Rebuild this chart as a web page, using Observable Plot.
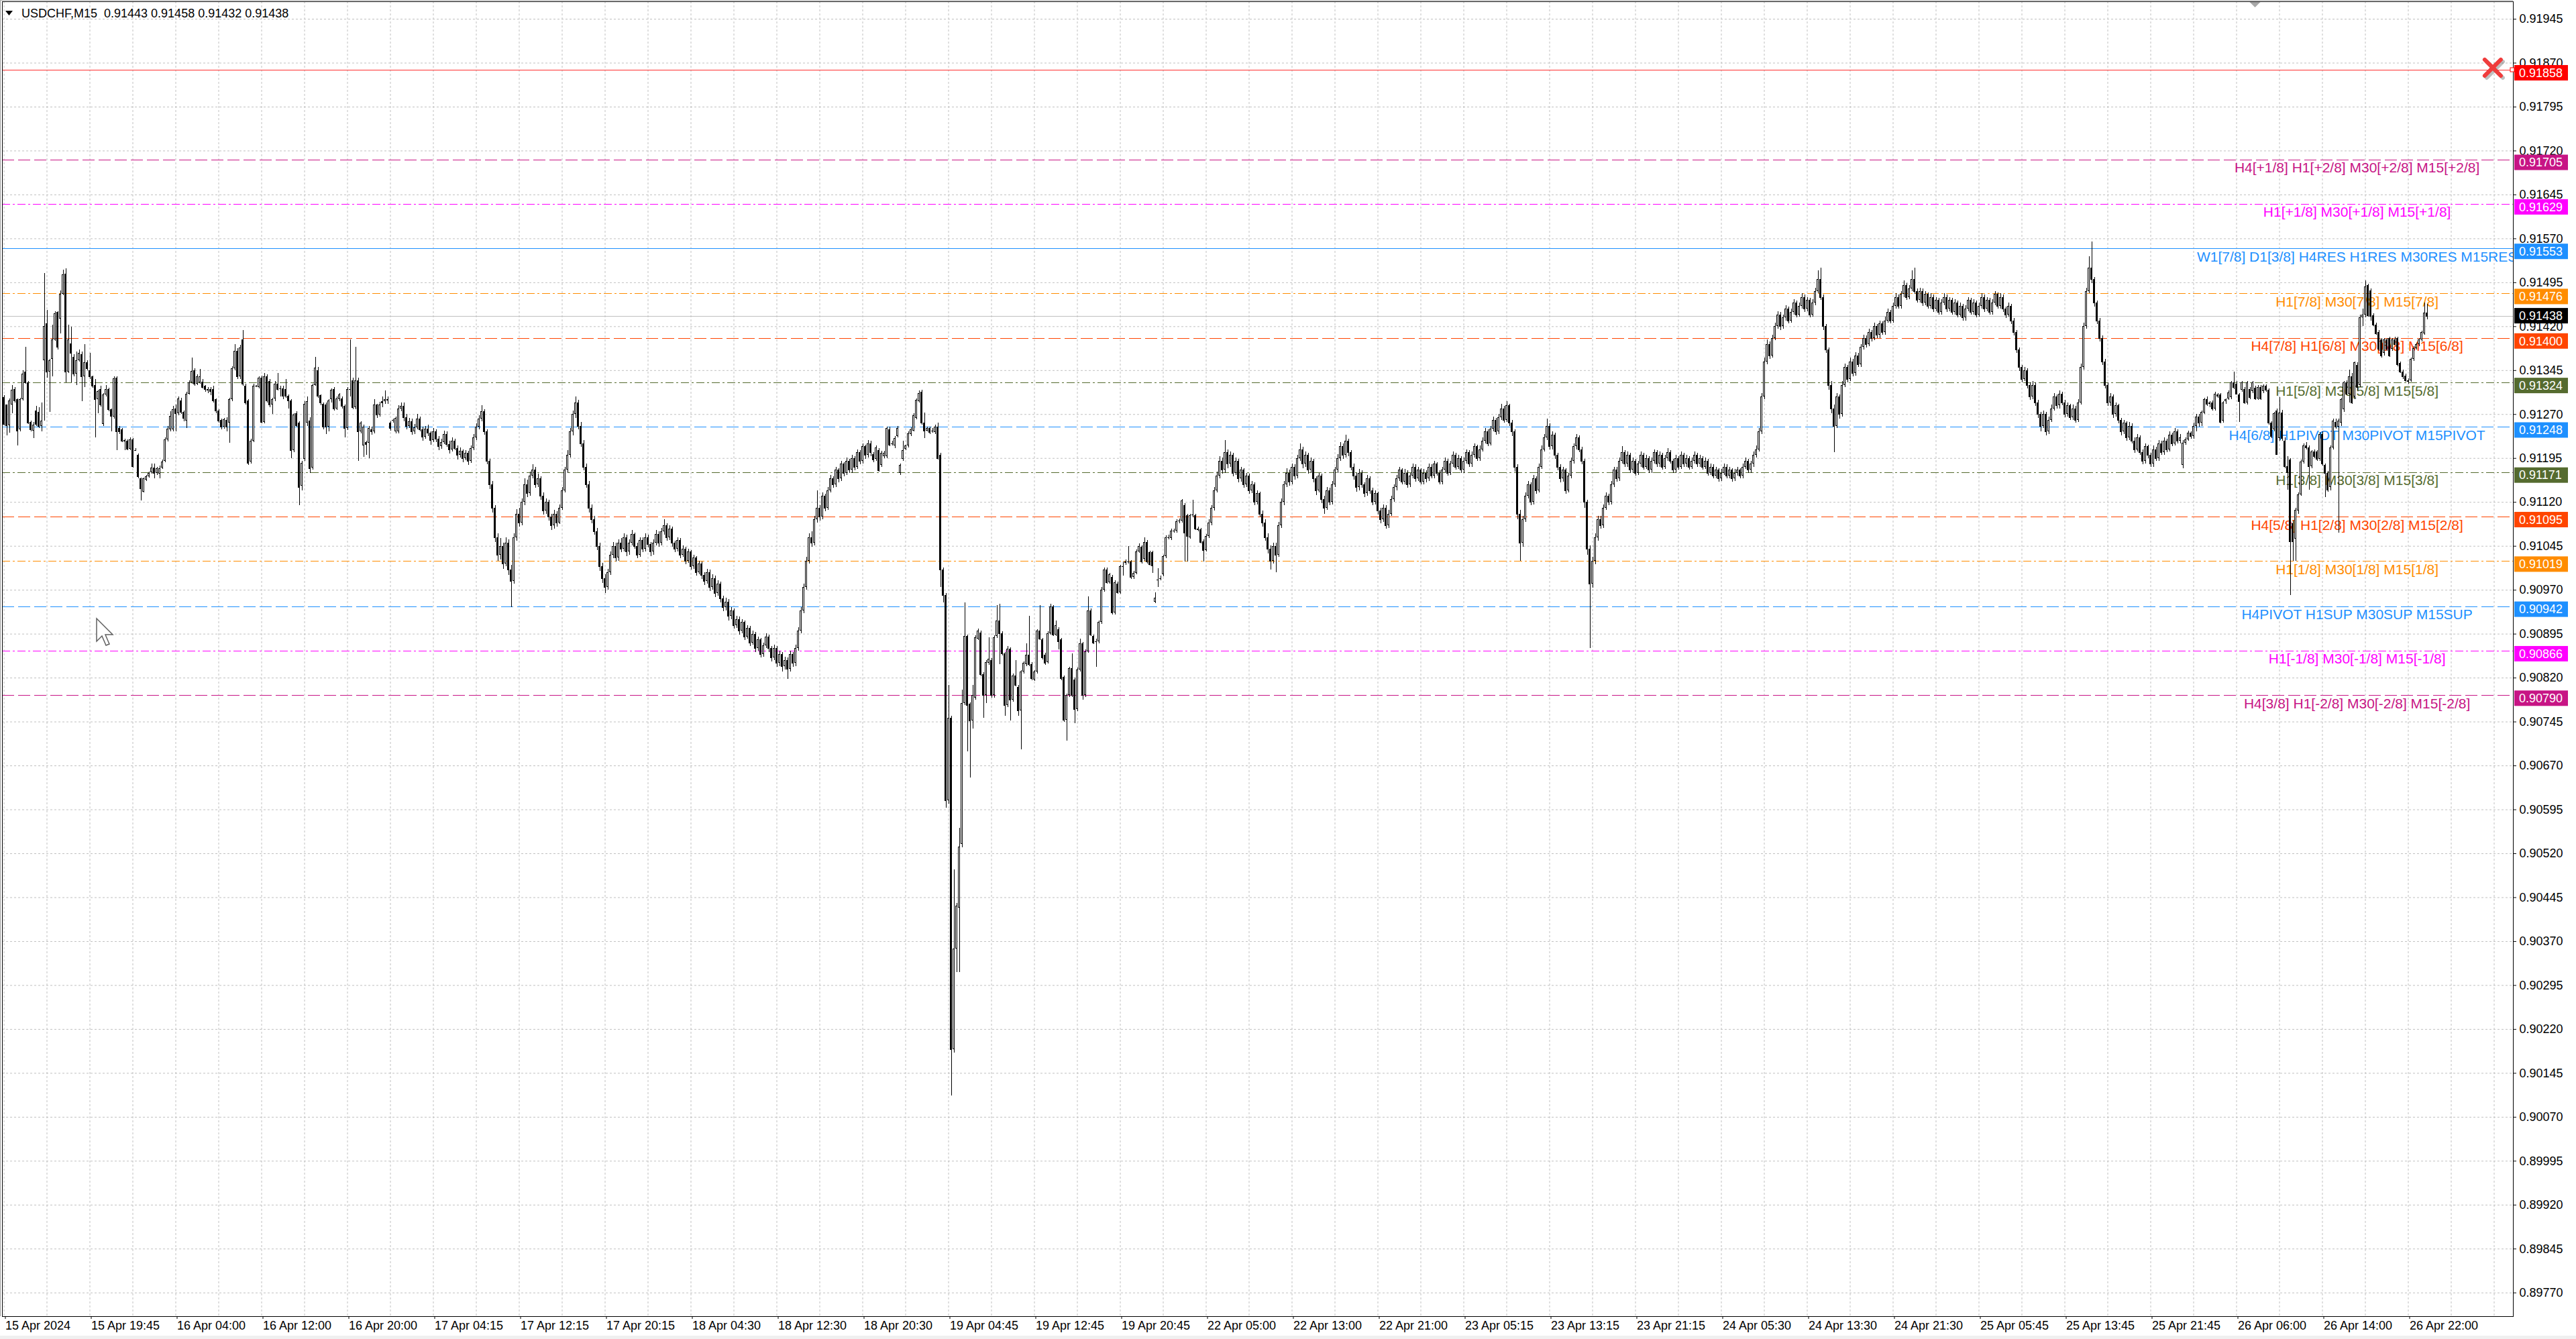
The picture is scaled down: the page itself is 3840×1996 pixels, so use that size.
<!DOCTYPE html>
<html><head><meta charset="utf-8">
<script src="https://cdn.jsdelivr.net/npm/d3@7"></script>
<script src="https://cdn.jsdelivr.net/npm/@observablehq/plot@0.6"></script>
<style>html,body{margin:0;padding:0;background:#fff;overflow:hidden}#chart svg{display:block}</style>
</head><body><div id="chart"></div>
<script>
// ---- DATA (USDCHF M15). Prices are written in points: 91438 means 0.91438 ----
const symbolTitle = "USDCHF,M15";
const candleOpen = [
91299,91286,91251,91286,91313,91295,91244,91295,91342,91324,
91257,91242,91276,91274,91250,91362,91425,91343,91364,91397,
91444,91433,91475,91510,91342,91391,91368,91339,91362,91372,
91334,91358,91345,91334,91319,91295,91313,91253,91303,91313,
91278,91266,91332,91246,91244,91226,91225,91211,91227,91209,
91200,91160,91138,91158,91164,91171,91179,91169,91168,91179,
91190,91227,91244,91244,91280,91271,91293,91274,91259,91305,
91324,91345,91322,91324,91325,91318,91313,91313,91313,91295,
91276,91260,91248,91260,91255,91295,91348,91378,91335,91397,
91318,91293,91189,91225,91318,91316,91332,91257,91335,91326,
91286,91297,91322,91313,91314,91313,91301,91293,91209,91271,
91255,91148,91194,91255,91259,91179,91320,91345,91302,91288,
91286,91248,91295,91313,91280,91295,91297,91284,91246,91311,
91328,91282,91328,91240,91217,91222,91221,91244,91240,91286,
91269,91292,91292,91293,91255,91259,91240,91240,91280,
91284,91265,91250,91258,91240,91247,91262,91244,91231,91245,
91238,91226,91240,91228,91215,91222,91236,91219,91210,91224,
91212,91200,91207,91195,91204,91190,91212,91230,91248,91262,
91275,91240,91190,91150,91110,91060,91030,91045,91015,91050,
91005,90985,91060,91100,91085,91120,91150,91135,91165,91175,
91150,91160,91130,91105,91120,91095,91080,91100,91085,91110,
91140,91175,91200,91240,91270,91290,91250,91220,91180,91150,
91110,91090,91070,91045,91010,90990,90975,91000,91030,91045,
91025,91050,91040,91060,91035,91050,91065,91045,91030,91055,
91040,91060,91048,91035,91050,91065,91050,91070,91080,91060,
91075,91050,91040,91055,91030,91040,91020,91035,91010,91025,
91000,91015,90995,90985,91000,90975,90990,90965,90980,90955,
90940,90950,90925,90935,90910,90920,90900,90915,90890,90905,
90880,90895,90870,90885,90860,90875,90890,90870,90855,90870,
90845,90860,90840,90850,90835,90860,90845,90870,90900,90935,
90975,91020,91060,91050,91090,91110,91095,91130,91110,91140,
91160,91150,91175,91160,91185,91170,91190,91175,91195,91180,
91205,91190,91215,91200,91220,
91202,91194,91209,91183,91198,91198,91244,91220,91216,91233,
91169,91194,91211,91216,91236,91242,91264,91292,91308,91255,
91242,91246,91242,91239,91248,91201,91005,90961,90611,90751,
90186,90357,90427,90536,90777,90891,90775,90747,90786,90887,
90897,90826,90790,90845,90850,90790,90891,90918,90896,90861,
90773,90869,90782,90824,90804,90764,90830,90843,90859,90843,
90817,90830,90900,90885,90859,90847,90896,90941,90894,90903,
90885,90821,90748,90790,90836,90817,90766,90834,90878,90790,
90865,90935,90891,90882,90882,90915,90970,91005,90983,90992,
90931,90981,90966,91010,91016,91018,91018,90992,90999,91036,
91043,91023,91052,91034,91034,90950,90987,90990,90996,91027,
91060,91058,91071,91071,91088,91088,91115,91097,91060,91097,
91097,91075,91073,91053,91038,
91062,91085,91110,91140,91165,91190,91175,91205,91185,91200,
91170,91190,91160,91175,91150,91165,91140,91150,91120,91135,
91100,91085,91060,91040,91020,91045,91030,91080,91120,91150,
91170,91155,91180,91165,91195,91210,91185,91200,91175,91190,
91160,91140,91165,91125,91110,91140,91120,91150,91175,91195,
91215,91200,91225,91205,91180,91165,91145,91170,91150,91135,
91160,91140,91120,91135,91105,91090,91110,91080,91100,91125,
91145,91160,91175,91155,91170,91150,91165,91180,91160,91175,
91155,91170,91160,91180,91165,91185,91170,91155,91175,91190,
91170,91185,91200,91180,91195,91175,91190,91205,91185,91200,
91215,91195,91210,91225,91240,91220,91245,91260,91240,91265,
91280,91260,91285,91255,91240,91180,91100,91050,91090,91130,
91150,91120,91160,91140,91180,91210,91230,91250,91215,91235,
91200,91180,91160,91175,91140,91165,91190,91215,91230,91210,
91190,91120,91040,90980,91020,91060,91090,91080,91110,91130,
91120,91150,91175,91160,91190,91205,91185,91200,91175,91190,
91170,91185,91200,91180,91195,91175,91190,91205,91185,91200,
91180,91195,91205,91190,91175,91195,91180,91200,91185,91195,
91180,91190,91200,91185,91195,91180,91190,91170,91180,91165,
91175,91160,91170,91180,91165,91175,91160,91170,91175,91165,
91180,91190,91175,91185,91200,91210,91240,91300,91360,91390,
91370,91400,91420,91440,91420,91435,91450,91430,91445,91460,
91440,91455,91470,91450,91465,91440,91460,91480,91500,91470,
91420,91380,91320,91280,91250,91300,91270,91320,91350,91330,
91360,91340,91370,91355,91385,91400,91390,91410,91400,91420,
91405,91425,91410,91430,91445,91430,91455,91470,91455,91475,
91490,91470,91485,91500,91480,91465,91480,91460,91475,91455,
91470,91450,91465,91445,91460,91470,91450,91465,91445,91460,
91440,91455,91435,91450,91465,91445,91460,91440,91455,91470,
91450,91465,91445,91460,91475,91455,91470,91450,91440,91455,
91430,91410,91380,91350,91330,91345,91320,91300,91320,91290,
91270,91250,91270,91240,91260,91280,91300,91285,91305,91290,
91270,91285,91265,91280,91260,91290,91350,91420,91480,91520,
91500,91460,91430,91400,91360,91320,91290,91300,91270,91285,
91260,91240,91255,91230,91250,91225,91210,91230,91205,91190,
91215,91200,91185,91210,91195,91220,91205,91225,91210,91235,
91220,91240,91225,
91183,91221,91227,91238,91232,91250,91266,91255,91273,91295,
91287,91290,91279,91303,91303,91259,91292,91297,91299,91324,
91322,91303,91311,91313,91290,91313,91309,91315,91297,91316,
91309,91318,91311,91255,91244,91276,91229,91273,91225,91181,
91192,91084,91057,91105,91133,91189,91217,91213,91181,91206,
91206,91194,91236,91183,91170,91145,91213,91257,91248,91255,
91278,91324,91305,91335,91300,91354,91320,91435,91440,91490,
91481,91439,91423,91410,91397,91374,91397,91400,91381,91398,
91400,91357,91343,91336,91328,91328,91364,91383,91389,91397,
91408,91443];
const candleHigh = [
91302,91286,91297,91320,91316,91297,91298,91345,91385,91326,
91259,91256,91284,91282,91290,91511,91448,91364,91423,91446,
91446,91481,91517,91519,91423,91419,91372,91377,91380,91377,
91389,91362,91374,91336,91330,91312,91318,91306,91320,91315,
91280,91335,91334,91250,91246,91228,91227,91230,91229,91212,
91203,91162,91162,91166,91172,91185,91185,91180,91182,91192,
91230,91250,91275,91284,91286,91300,91298,91276,91308,91328,
91366,91348,91338,91347,91330,91320,91316,91316,91318,91297,
91278,91262,91264,91265,91298,91352,91389,91382,91388,91414,
91322,91296,91228,91322,91320,91335,91336,91340,91338,91330,
91298,91326,91340,91318,91318,91330,91304,91296,91272,91275,
91258,91190,91292,91300,91265,91322,91368,91350,91304,91290,
91290,91296,91314,91316,91300,91306,91300,91286,91316,91397,
91332,91385,91332,91258,91252,91225,91250,91248,91295,91288,
91291,91300,91310,91300,91258,91262,91266,91285,91290,
91290,91270,91264,91262,91253,91270,91266,91248,91250,91252,
91241,91246,91244,91232,91228,91242,91240,91224,91230,91228,
91216,91213,91210,91209,91207,91216,91236,91254,91268,91285,
91278,91244,91194,91156,91114,91066,91058,91050,91060,91056,
91012,91066,91108,91110,91126,91160,91158,91172,91184,91180,
91168,91164,91136,91126,91124,91100,91106,91104,91116,91146,
91180,91208,91246,91276,91300,91294,91256,91226,91186,91156,
91116,91096,91076,91050,91016,90996,91006,91036,91052,91050,
91056,91058,91066,91064,91056,91072,91068,91050,91060,91060,
91066,91064,91052,91056,91072,91070,91076,91090,91084,91080,
91078,91054,91060,91058,91046,91044,91040,91038,91030,91028,
91020,91018,91000,91006,91004,90996,90994,90986,90984,90960,
90956,90954,90940,90938,90926,90924,90920,90918,90910,90908,
90900,90898,90890,90888,90880,90896,90894,90874,90876,90874,
90866,90864,90856,90854,90866,90864,90876,90906,90940,90980,
91026,91066,91070,91096,91140,91114,91136,91134,91146,91166,
91164,91180,91178,91190,91188,91196,91194,91200,91198,91210,
91208,91220,91218,91226,91224,
91205,91216,91212,91207,91207,91249,91248,91224,91232,91250,
91186,91224,91218,91240,91247,91271,91297,91310,91312,91273,
91249,91249,91246,91252,91255,91204,91008,90964,90808,90755,
90492,90435,90563,90799,90948,90894,90778,90808,90892,90904,
90900,90829,90850,90889,90853,90892,90944,90946,90899,90864,
90874,90872,90827,90850,90807,90833,90848,90878,90926,90846,
90833,90903,90944,90888,90862,90899,90946,90944,90918,90906,
90888,90824,90793,90839,90861,90820,90837,90887,90881,90868,
90959,90938,90894,90886,90918,90975,91008,91008,90999,90995,
90986,90984,91013,91018,91022,91045,91021,91002,91039,91049,
91046,91060,91055,91037,91037,90966,91007,90994,91030,91063,
91064,91074,91075,91090,91092,91125,91118,91100,91100,91124,
91100,91078,91076,91056,91065,
91090,91115,91146,91172,91198,91196,91226,91210,91206,91204,
91196,91194,91180,91178,91170,91168,91156,91154,91140,91138,
91105,91090,91066,91046,91050,91050,91086,91126,91156,91178,
91175,91186,91184,91200,91220,91214,91206,91204,91196,91194,
91164,91170,91168,91130,91146,91144,91156,91180,91202,91222,
91220,91235,91228,91208,91185,91170,91176,91174,91154,91166,
91164,91144,91140,91138,91110,91116,91114,91106,91130,91150,
91166,91180,91178,91176,91174,91170,91186,91184,91180,91178,
91176,91174,91186,91184,91190,91188,91174,91180,91196,91194,
91190,91206,91204,91200,91198,91196,91210,91208,91206,91220,
91218,91216,91230,91246,91244,91250,91266,91264,91270,91288,
91284,91292,91288,91260,91244,91184,91106,91096,91136,91156,
91154,91166,91164,91186,91216,91236,91262,91254,91240,91238,
91204,91184,91180,91178,91170,91196,91220,91236,91234,91214,
91194,91124,91046,91026,91066,91096,91096,91116,91136,91134,
91156,91180,91180,91196,91215,91208,91206,91204,91196,91194,
91190,91206,91204,91200,91198,91196,91210,91208,91206,91204,
91200,91212,91208,91194,91200,91198,91206,91204,91200,91198,
91196,91206,91204,91200,91198,91196,91194,91186,91184,91180,
91178,91176,91186,91184,91180,91178,91176,91180,91178,91186,
91196,91194,91190,91206,91216,91246,91306,91366,91398,91394,
91406,91426,91446,91444,91440,91456,91454,91450,91466,91464,
91460,91476,91474,91470,91468,91466,91486,91515,91520,91474,
91424,91384,91326,91286,91306,91304,91326,91356,91354,91366,
91364,91376,91374,91390,91406,91404,91416,91414,91426,91424,
91430,91428,91436,91450,91448,91460,91476,91474,91480,91498,
91494,91490,91515,91520,91484,91486,91484,91480,91478,91476,
91474,91470,91468,91466,91476,91474,91470,91468,91466,91464,
91460,91458,91456,91470,91468,91466,91464,91460,91476,91474,
91470,91468,91466,91480,91478,91476,91474,91454,91460,91458,
91434,91414,91384,91354,91350,91348,91324,91326,91324,91294,
91274,91276,91274,91266,91286,91306,91304,91310,91308,91294,
91290,91288,91286,91284,91296,91356,91426,91486,91540,91565,
91504,91464,91434,91404,91364,91324,91306,91304,91290,91288,
91264,91260,91258,91256,91254,91230,91236,91234,91210,91220,
91218,91204,91216,91214,91226,91224,91230,91228,91240,91238,
91246,91244,91236,
91226,91230,91242,91240,91255,91270,91270,91276,91298,91300,
91292,91293,91308,91306,91306,91292,91297,91310,91327,91343,
91327,91306,91327,91316,91327,91316,91327,91318,91319,91320,
91321,91321,91314,91258,91274,91280,91299,91277,91230,91198,
91195,91088,91110,91136,91192,91220,91222,91216,91209,91210,
91209,91239,91240,91186,91173,91216,91262,91262,91262,91298,
91327,91328,91346,91340,91360,91358,91440,91450,91498,91492,
91485,91442,91426,91414,91400,91400,91400,91402,91400,91402,
91402,91360,91346,91339,91331,91366,91386,91392,91400,91412,
91460,91458];
const candleLow = [
91251,91234,91238,91271,91290,91217,91240,91293,91322,91253,
91240,91229,91250,91246,91240,91259,91332,91274,91334,91395,
91380,91408,91473,91324,91340,91324,91335,91320,91360,91292,
91316,91345,91330,91315,91230,91271,91283,91250,91300,91275,
91240,91262,91208,91236,91222,91208,91208,91209,91179,91207,
91160,91122,91136,91156,91162,91168,91160,91166,91160,91176,
91188,91223,91240,91240,91240,91268,91270,91258,91246,91303,
91322,91318,91320,91322,91314,91308,91306,91302,91290,91272,
91255,91244,91245,91240,91221,91292,91345,91330,91330,91318,
91286,91183,91186,91222,91316,91314,91254,91254,91290,91282,
91270,91292,91310,91300,91296,91298,91280,91195,91205,91248,
91114,91140,91190,91250,91170,91175,91318,91298,91285,91244,
91236,91240,91290,91276,91277,91292,91280,91230,91243,91300,
91278,91278,91190,91237,91197,91200,91195,91235,91237,91264,
91266,91282,91288,91288,91242,91255,91237,91237,91275,
91258,91244,91246,91235,91236,91244,91240,91224,91228,91233,
91218,91222,91222,91208,91211,91219,91214,91203,91206,91208,
91192,91196,91188,91191,91183,91187,91208,91226,91244,91258,
91235,91184,91142,91102,91052,91020,91022,91006,91010,90995,
90940,90980,91054,91078,91080,91114,91128,91130,91160,91144,
91146,91124,91098,91100,91088,91072,91075,91078,91082,91106,
91136,91170,91196,91234,91264,91244,91214,91174,91144,91102,
91084,91064,91038,91002,90982,90965,90970,90995,91024,91018,
91020,91034,91035,91028,91030,91046,91040,91024,91026,91034,
91036,91042,91028,91030,91046,91044,91046,91064,91054,91055,
91044,91034,91036,91024,91026,91014,91016,91004,91006,90994,
90996,90988,90978,90980,90968,90970,90958,90960,90948,90934,
90935,90918,90920,90904,90905,90894,90896,90884,90886,90874,
90876,90864,90866,90854,90856,90870,90864,90848,90850,90838,
90840,90830,90834,90818,90830,90838,90840,90866,90896,90930,
90970,91015,91044,91046,91085,91088,91090,91104,91106,91136,
91144,91146,91154,91156,91164,91166,91170,91170,91174,91176,
91184,91186,91194,91196,91198,
91188,91190,91172,91180,91195,91195,91215,91216,91212,91230,
91166,91190,91208,91213,91233,91240,91261,91290,91252,91229,
91240,91236,91238,91236,91192,90975,90948,90598,90605,90107,
90180,90317,90317,90530,90773,90694,90650,90733,90782,90884,
90822,90751,90777,90842,90786,90786,90888,90843,90858,90755,
90770,90747,90779,90805,90755,90698,90827,90840,90840,90816,
90814,90827,90884,90851,90842,90844,90893,90891,90891,90868,
90816,90745,90713,90787,90787,90742,90763,90831,90782,90787,
90862,90891,90877,90839,90879,90912,90967,90980,90980,90928,
90928,90963,90963,90994,91013,91015,90989,90989,90996,91033,
91015,91020,91015,91011,90999,90947,90975,90986,90993,91024,
91056,91055,91067,91068,91084,91085,91018,91018,91057,91094,
91072,91070,91049,91018,91035,
91058,91080,91105,91136,91160,91168,91170,91178,91180,91164,
91166,91154,91155,91144,91146,91134,91135,91114,91116,91094,
91078,91054,91032,91005,91015,91000,91026,91076,91115,91146,
91148,91150,91158,91160,91190,91178,91180,91168,91170,91154,
91132,91136,91118,91100,91106,91114,91116,91146,91170,91190,
91194,91196,91198,91174,91158,91138,91140,91144,91128,91130,
91134,91114,91116,91098,91084,91086,91074,91076,91096,91120,
91140,91156,91150,91150,91144,91146,91160,91155,91156,91150,
91150,91154,91156,91160,91160,91165,91150,91150,91170,91165,
91166,91180,91175,91176,91170,91170,91186,91180,91180,91196,
91190,91190,91206,91220,91215,91216,91240,91235,91236,91260,
91255,91256,91250,91232,91172,91090,91020,91044,91086,91126,
91114,91116,91134,91136,91176,91206,91226,91210,91210,91194,
91174,91154,91155,91134,91136,91160,91186,91210,91205,91184,
91110,91030,90870,90974,91014,91054,91074,91076,91106,91114,
91116,91146,91155,91156,91186,91180,91180,91170,91170,91165,
91166,91180,91175,91176,91170,91170,91186,91180,91180,91175,
91176,91190,91185,91170,91170,91175,91176,91180,91180,91175,
91176,91186,91180,91180,91175,91176,91165,91166,91160,91160,
91155,91156,91166,91160,91160,91155,91156,91165,91160,91160,
91176,91170,91170,91180,91196,91206,91236,91296,91355,91364,
91366,91396,91416,91414,91416,91430,91425,91426,91440,91435,
91436,91450,91445,91446,91435,91436,91456,91476,91465,91414,
91374,91312,91272,91205,91246,91262,91266,91316,91324,91326,
91334,91336,91350,91350,91380,91384,91386,91394,91396,91400,
91400,91405,91406,91426,91425,91426,91450,91450,91450,91470,
91465,91466,91480,91475,91460,91460,91455,91456,91450,91450,
91445,91446,91440,91440,91456,91445,91446,91440,91440,91435,
91436,91430,91430,91446,91440,91440,91435,91436,91450,91445,
91446,91440,91440,91456,91450,91450,91445,91434,91436,91424,
91404,91374,91344,91324,91326,91314,91294,91296,91284,91264,
91240,91246,91234,91236,91256,91276,91280,91280,91285,91265,
91266,91260,91260,91255,91256,91286,91346,91416,91476,91494,
91454,91424,91394,91354,91314,91284,91284,91264,91266,91254,
91234,91236,91224,91226,91220,91204,91206,91200,91184,91186,
91195,91180,91180,91190,91190,91200,91200,91205,91206,91215,
91216,91220,91220,
91178,91218,91224,91228,91228,91240,91248,91250,91270,91284,
91282,91276,91276,91298,91254,91255,91288,91294,91296,91313,
91303,91257,91308,91288,91286,91296,91306,91294,91294,91294,
91306,91308,91252,91229,91240,91200,91225,91225,91178,91141,
90961,91019,91019,91100,91130,91185,91210,91141,91178,91195,
91190,91190,91182,91128,91138,91140,91210,91245,91068,91250,
91274,91302,91290,91287,91296,91310,91316,91420,91435,91436,
91430,91420,91405,91378,91367,91370,91378,91368,91378,91388,
91352,91340,91330,91325,91322,91325,91361,91380,91386,91394,
91405,91432];
const candleClose = [
91253,91251,91293,91311,91293,91242,91295,91339,91324,91255,
91244,91252,91253,91250,91259,91420,91343,91362,91397,91442,
91385,91475,91509,91342,91398,91374,91339,91362,91374,91334,
91358,91348,91334,91318,91295,91309,91286,91303,91313,91278,
91267,91331,91240,91240,91225,91224,91211,91227,91181,91209,
91164,91143,91160,91164,91169,91179,91169,91177,91177,91189,
91227,91245,91267,91278,91271,91297,91274,91263,91305,91324,
91344,91322,91335,91335,91316,91313,91311,91309,91293,91276,
91259,91248,91261,91248,91295,91348,91378,91335,91384,91322,
91290,91187,91225,91318,91318,91332,91257,91335,91293,91286,
91295,91322,91313,91314,91301,91301,91293,91209,91269,91251,
91145,91187,91288,91292,91177,91320,91349,91301,91290,91248,
91248,91293,91311,91280,91297,91303,91284,91246,91313,91313,
91282,91328,91240,91255,91248,91219,91246,91240,91286,91269,
91286,91290,91295,91296,91246,91260,91263,91280,91284,
91265,91250,91258,91240,91247,91262,91244,91231,91245,91238,
91226,91240,91228,91215,91222,91236,91219,91210,91224,91212,
91200,91207,91195,91204,91190,91212,91230,91248,91262,91275,
91240,91190,91150,91110,91060,91030,91045,91015,91050,91005,
90985,91060,91100,91085,91120,91150,91135,91165,91175,91150,
91160,91130,91105,91120,91095,91080,91100,91085,91110,91140,
91175,91200,91240,91270,91290,91250,91220,91180,91150,91110,
91090,91070,91045,91010,90990,90975,91000,91030,91045,91025,
91050,91040,91060,91035,91050,91065,91045,91030,91055,91040,
91060,91048,91035,91050,91065,91050,91070,91080,91060,91075,
91050,91040,91055,91030,91040,91020,91035,91010,91025,91000,
91015,90995,90985,91000,90975,90990,90965,90980,90955,90940,
90950,90925,90935,90910,90920,90900,90915,90890,90905,90880,
90895,90870,90885,90860,90875,90890,90870,90855,90870,90845,
90860,90840,90850,90835,90860,90845,90870,90900,90935,90975,
91020,91060,91050,91090,91110,91095,91130,91110,91140,91160,
91150,91175,91160,91185,91170,91190,91175,91195,91180,91205,
91190,91215,91200,91220,91205,
91192,91213,91174,91204,91204,91246,91218,91220,91229,91246,
91183,91209,91216,91237,91244,91268,91294,91306,91255,91242,
91246,91239,91242,91248,91195,91005,90961,90611,90751,90186,
90357,90431,90532,90777,90891,90773,90747,90790,90889,90900,
90826,90790,90847,90852,90790,90889,90918,90896,90861,90773,
90869,90782,90824,90808,90764,90830,90845,90859,90843,90819,
90830,90900,90887,90854,90845,90896,90941,90894,90909,90882,
90819,90748,90790,90836,90790,90766,90834,90878,90790,90865,
90935,90894,90880,90882,90915,90970,91005,90983,90996,90931,
90983,90966,91010,91010,91018,91018,90992,90999,91036,91045,
91018,91052,91018,91014,91011,90957,90987,90990,91027,91060,
91060,91071,91071,91087,91088,91122,91067,91062,91097,91099,
91075,91073,91052,91038,91062,
91085,91110,91140,91165,91190,91175,91205,91185,91200,91170,
91190,91160,91175,91150,91165,91140,91150,91120,91135,91100,
91085,91060,91040,91020,91045,91030,91080,91120,91150,91170,
91155,91180,91165,91195,91210,91185,91200,91175,91190,91160,
91140,91165,91125,91110,91140,91120,91150,91175,91195,91215,
91200,91225,91205,91180,91165,91145,91170,91150,91135,91160,
91140,91120,91135,91105,91090,91110,91080,91100,91125,91145,
91160,91175,91155,91170,91150,91165,91180,91160,91175,91155,
91170,91160,91180,91165,91185,91170,91155,91175,91190,91170,
91185,91200,91180,91195,91175,91190,91205,91185,91200,91215,
91195,91210,91225,91240,91220,91245,91260,91240,91265,91280,
91260,91285,91255,91240,91180,91100,91050,91090,91130,91150,
91120,91160,91140,91180,91210,91230,91250,91215,91235,91200,
91180,91160,91175,91140,91165,91190,91215,91230,91210,91190,
91120,91040,90980,91020,91060,91090,91080,91110,91130,91120,
91150,91175,91160,91190,91205,91185,91200,91175,91190,91170,
91185,91200,91180,91195,91175,91190,91205,91185,91200,91180,
91195,91205,91190,91175,91195,91180,91200,91185,91195,91180,
91190,91200,91185,91195,91180,91190,91170,91180,91165,91175,
91160,91170,91180,91165,91175,91160,91170,91175,91165,91180,
91190,91175,91185,91200,91210,91240,91300,91360,91390,91370,
91400,91420,91440,91420,91435,91450,91430,91445,91460,91440,
91455,91470,91450,91465,91440,91460,91480,91500,91470,91420,
91380,91320,91280,91250,91300,91270,91320,91350,91330,91360,
91340,91370,91355,91385,91400,91390,91410,91400,91420,91405,
91425,91410,91430,91445,91430,91455,91470,91455,91475,91490,
91470,91485,91500,91480,91465,91480,91460,91475,91455,91470,
91450,91465,91445,91460,91470,91450,91465,91445,91460,91440,
91455,91435,91450,91465,91445,91460,91440,91455,91470,91450,
91465,91445,91460,91475,91455,91470,91450,91440,91455,91430,
91410,91380,91350,91330,91345,91320,91300,91320,91290,91270,
91250,91270,91240,91260,91280,91300,91285,91305,91290,91270,
91285,91265,91280,91260,91290,91350,91420,91480,91520,91500,
91460,91430,91400,91360,91320,91290,91300,91270,91285,91260,
91240,91255,91230,91250,91225,91210,91230,91205,91190,91215,
91200,91185,91210,91195,91220,91205,91225,91210,91235,91220,
91240,91225,91230,
91221,91227,91238,91232,91250,91266,91255,91274,91295,91287,
91290,91279,91305,91301,91257,91290,91295,91307,91324,91316,
91305,91292,91324,91290,91324,91299,91324,91297,91316,91297,
91318,91311,91255,91232,91271,91202,91273,91229,91181,91171,
91053,91053,91107,91133,91189,91217,91213,91181,91206,91198,
91194,91236,91185,91170,91141,91213,91259,91248,91259,91295,
91324,91305,91335,91290,91358,91316,91435,91440,91488,91439,
91437,91423,91408,91381,91370,91397,91381,91370,91398,91390,
91355,91343,91334,91328,91326,91364,91383,91389,91397,91410,
91443,91438];

// price axis ticks (right side)
const yTickValues = [0.91945,0.91870,0.91795,0.91720,0.91645,0.91570,0.91495,0.91420,0.91345,0.91270,
  0.91195,0.91120,0.91045,0.90970,0.90895,0.90820,0.90745,0.90670,0.90595,0.90520,
  0.90445,0.90370,0.90295,0.90220,0.90145,0.90070,0.89995,0.89920,0.89845,0.89770];
// time axis: bar index of each label and its text
const xTickBars = [0,32,64,96,128,160,192,224,256,288,320,352,384,416,448,480,512,544,576,608,640,672,704,736,768,800,832,864,896];
const xTickLabels = ["15 Apr 2024","15 Apr 19:45","16 Apr 04:00","16 Apr 12:00","16 Apr 20:00","17 Apr 04:15","17 Apr 12:15",
  "17 Apr 20:15","18 Apr 04:30","18 Apr 12:30","18 Apr 20:30","19 Apr 04:45","19 Apr 12:45","19 Apr 20:45","22 Apr 05:00",
  "22 Apr 13:00","22 Apr 21:00","23 Apr 05:15","23 Apr 13:15","23 Apr 21:15","24 Apr 05:30","24 Apr 13:30","24 Apr 21:30",
  "25 Apr 05:45","25 Apr 13:45","25 Apr 21:45","26 Apr 06:00","26 Apr 14:00","26 Apr 22:00"];
const xGridBars = [0,16,32,48,64,80,96,112,128,144,160,176,192,208,224,240,256,272,288,304,320,336,352,368,384,400,
  416,432,448,464,480,496,512,528,544,560,576,592,608,624,640,656,672,688,704,720,736,752,768,784,800,816,832,848,
  864,880,896,912,928];

// Murrey-math style levels
const levelPrices = [0.91858,0.91705,0.91629,0.91553,0.91476,0.91438,0.91400,0.91324,0.91248,0.91171,0.91095,0.91019,0.90942,0.90866,0.90790];
const levelLineColors = ["#ff3030","#c71585","#ff00ff","#1e90ff","#ff8c00","#c0c0c0","#ff4500","#556b2f","#1e90ff","#556b2f","#ff4500","#ff8c00","#1e90ff","#ff00ff","#c71585"];
const levelBoxColors = ["#ff0000","#c71585","#ff00ff","#1e90ff","#ff8c00","#000000","#ff4500","#556b2f","#1e90ff","#556b2f","#ff4500","#ff8c00","#1e90ff","#ff00ff","#c71585"];
const levelStyles = ["solid","dash","dashdot","solid","dashdot","bid","dash","dashdot","dash","dashdot","dash","dashdot","dash","dashdot","dash"];
const levelTexts = ["","H4[+1/8] H1[+2/8] M30[+2/8] M15[+2/8]","H1[+1/8] M30[+1/8] M15[+1/8]","W1[7/8] D1[3/8] H4RES H1RES M30RES M15RES",
  "H1[7/8] M30[7/8] M15[7/8]","","H4[7/8] H1[6/8] M30[6/8] M15[6/8]","H1[5/8] M30[5/8] M15[5/8]","H4[6/8] H1PIVOT M30PIVOT M15PIVOT",
  "H1[3/8] M30[3/8] M15[3/8]","H4[5/8] H1[2/8] M30[2/8] M15[2/8]","H1[1/8] M30[1/8] M15[1/8]","H4PIVOT H1SUP M30SUP M15SUP",
  "H1[-1/8] M30[-1/8] M15[-1/8]","H4[3/8] H1[-2/8] M30[-2/8] M15[-2/8]"];

// ---- layout ----
const W = 3840, H = 1996;
const mL = 3, mR = 94, mT = 2, mB = 34;
const FONT = "'Liberation Sans', Arial, sans-serif";
const levelTextBar = 876.9;   // bar position where the level captions are centred
const half = 0.375;           // half body width in bars

const toPrice = v => v / 100000;
const bars = candleClose.map((c, i) => ({
  i, o: toPrice(candleOpen[i]), h: toPrice(candleHigh[i]), l: toPrice(candleLow[i]), c: toPrice(c)
}));
const levels = levelPrices.map((p, k) => ({p, color: levelLineColors[k], box: levelBoxColors[k], style: levelStyles[k], text: levelTexts[k]}));
const dashes = {solid: null, bid: null, dash: "18,6", dashdot: "12,4,3,4"};
const labelMap = new Map(xTickBars.map((b, k) => [b, xTickLabels[k]]));
const fmt = d3.format(".5f");

const levelRules = Object.keys(dashes).map(s => Plot.ruleY(levels.filter(d => d.style === s), {
  y: "p", stroke: "color", strokeWidth: 1, shapeRendering: "crispEdges",
  ...(dashes[s] ? {strokeDasharray: dashes[s]} : {})
}));

const plot = Plot.plot({
  width: W, height: H,
  marginLeft: mL, marginRight: mR, marginTop: mT, marginBottom: mB,
  style: {fontFamily: FONT, fontSize: "18px", background: "#fff", color: "#000"},
  x: {domain: [-0.625, 935.125], axis: null},
  y: {domain: [0.897296, 0.919748], axis: null},
  color: {type: "identity"},
  marks: [
    Plot.gridY(yTickValues, {stroke: "#c0c0c0", strokeOpacity: 1, strokeDasharray: "3,3"}),
    Plot.gridX(xGridBars, {stroke: "#c0c0c0", strokeOpacity: 1, strokeDasharray: "3,3"}),
    ...levelRules,
    Plot.text(levels.filter(d => d.text), {
      x: () => levelTextBar, y: "p", text: "text", fill: "color", fontSize: 21,
      textAnchor: "middle", lineAnchor: "bottom", dy: 19, clip: true
    }),
    Plot.ruleX(bars, {x: "i", y1: "l", y2: "h", stroke: "#000", strokeWidth: 1, shapeRendering: "crispEdges"}),
    Plot.ruleY(bars, {y: "c", x1: d => d.i - half, x2: d => d.i + half, stroke: "#000", strokeWidth: 1, shapeRendering: "crispEdges"}),
    Plot.rect(bars, {x1: d => d.i - half, x2: d => d.i + half, y1: "o", y2: "c", fill: "#000", shapeRendering: "crispEdges"}),
    Plot.rect(bars.filter(d => d.c > d.o), {x1: d => d.i - half, x2: d => d.i + half, y1: "o", y2: "c", fill: "#fff", inset: 1, shapeRendering: "crispEdges"}),
    Plot.axisY(yTickValues, {anchor: "right", tickSize: 4, tickPadding: 5, tickFormat: fmt, fontSize: 18, label: null, stroke: "#000", fill: "#000"}),
    Plot.axisX(xTickBars, {anchor: "bottom", tickSize: 4, tickPadding: 3, tickFormat: d => labelMap.get(d), textAnchor: "start", dx: 2, fontSize: 18, label: null, stroke: "#000", fill: "#000"}),
    Plot.frame({stroke: "#000", shapeRendering: "crispEdges"})
  ]
});
document.getElementById("chart").appendChild(plot);

// ---- overlays positioned with Plot's own scales ----
const svg = d3.select(plot);
const ys = plot.scale("y"), xs = plot.scale("x");
const right = W - mR;

// window edges
svg.append("rect").attr("x", 0).attr("y", H - 5).attr("width", W).attr("height", 5).attr("fill", "#f0f0f0");
svg.append("line").attr("x1", 0.5).attr("x2", 0.5).attr("y1", 0).attr("y2", H - mB).attr("stroke", "#a0a0a0");
svg.append("line").attr("x1", 0).attr("x2", right).attr("y1", 0.5).attr("y2", 0.5).attr("stroke", "#b0b0b0");

// price labels on the axis
const gb = svg.append("g").attr("font-family", FONT).attr("font-size", 18).attr("text-anchor", "start");
levels.forEach(d => {
  const py = ys.apply(d.p);
  const top = d.style === "bid" ? py - 11.5 : py - 7;
  gb.append("rect").attr("x", right + 2).attr("y", top).attr("width", 80).attr("height", 23).attr("fill", d.box);
  gb.append("text").attr("x", right + 9).attr("y", top + 11.5).attr("dy", "0.35em").attr("text-anchor", "start").attr("fill", "#fff").text(fmt(d.p));
});

// red "x" of the alert line
const xr = xs.apply(927.6), yr = ys.apply(levelPrices[0]) - 3;
const gx = svg.append("g").attr("stroke-linecap", "round");
[[3, 3, "rgba(0,0,0,0.25)"], [0, 0, "#f03c3c"]].forEach(([dx, dy, c]) => {
  gx.append("line").attr("x1", xr - 12 + dx).attr("y1", yr - 12 + dy).attr("x2", xr + 12 + dx).attr("y2", yr + 12 + dy).attr("stroke", c).attr("stroke-width", 6);
  gx.append("line").attr("x1", xr + 12 + dx).attr("y1", yr - 12 + dy).attr("x2", xr - 12 + dx).attr("y2", yr + 12 + dy).attr("stroke", c).attr("stroke-width", 6);
});
svg.append("rect").attr("x", right - 4).attr("y", ys.apply(levelPrices[0]) - 3).attr("width", 6).attr("height", 6).attr("fill", "#fff").attr("stroke", "#ff0000");

// chart-shift marker
const sx = xs.apply(839);
svg.append("path").attr("d", `M${sx - 8},3L${sx + 8},3L${sx},11Z`).attr("fill", "#a8a8a8");

// header
const last = bars[bars.length - 1];
svg.append("path").attr("d", "M8,16L19,16L13.5,23Z").attr("fill", "#000");
svg.append("text").attr("x", 32).attr("y", 26).attr("font-family", FONT).attr("font-size", 18).attr("fill", "#000")
  .attr("text-anchor", "start").style("white-space", "pre")
  .text(`${symbolTitle}  ${fmt(last.o)} ${fmt(last.h)} ${fmt(last.l)} ${fmt(last.c)}`);

// mouse pointer left on the chart
const cx = 144, cy = 922;
svg.append("path").attr("d", `M${cx},${cy}L${cx},${cy + 34}L${cx + 8},${cy + 26}L${cx + 14},${cy + 40}L${cx + 19},${cy + 38}L${cx + 13},${cy + 24}L${cx + 24},${cy + 24}Z`)
  .attr("fill", "#fff").attr("stroke", "#606060").attr("stroke-width", 1.5);
</script></body></html>
